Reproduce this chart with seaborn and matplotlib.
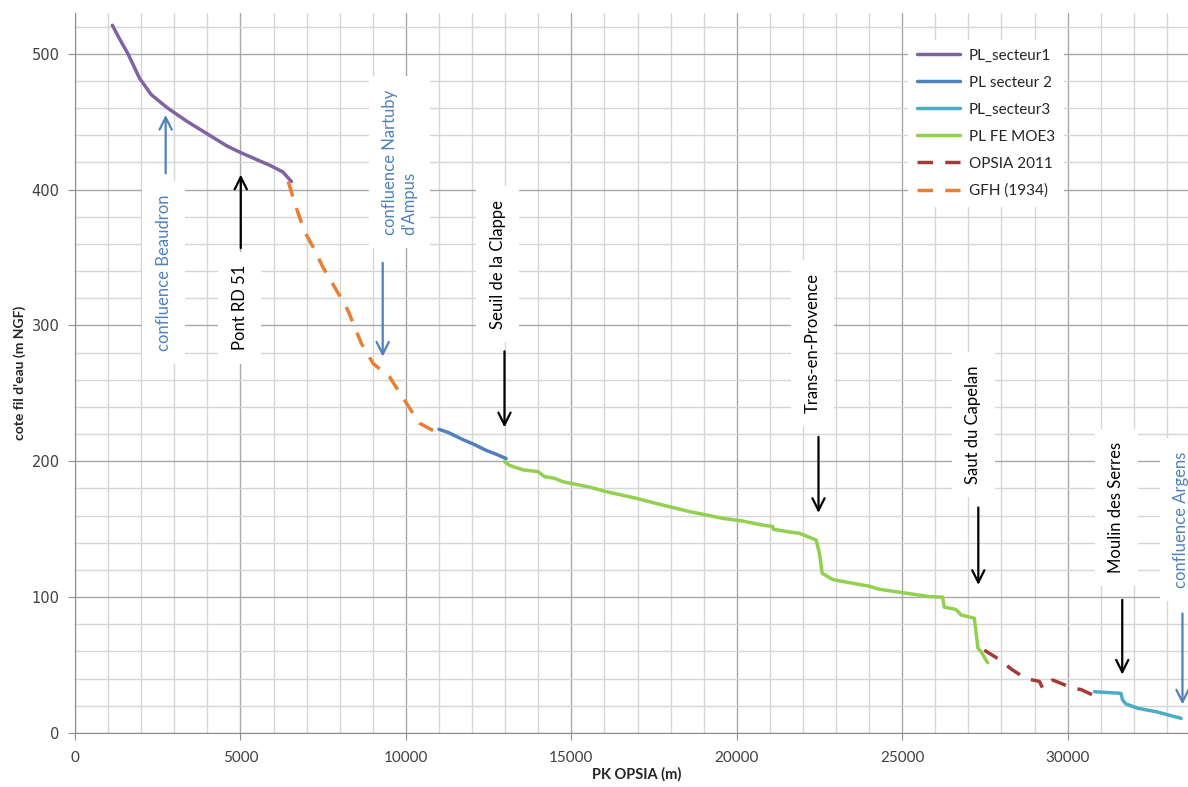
import pandas as pd
import numpy as np
import seaborn as sns
import matplotlib.pyplot as plt
from matplotlib.ticker import MultipleLocator

# Profil en long
sect1_x = [1130, 1300, 1600, 1950, 2300, 2800, 3400, 4000, 4600, 5030, 5500, 5880, 6280, 6540]
sect1_y = [521, 513, 500, 482, 470, 460, 450, 441, 432, 427, 422, 418, 413, 406]

sect2_x = [11000, 11300, 11720, 12100, 12430, 12750, 13030]
sect2_y = [223.6, 221, 216, 212, 208, 205, 202]

sect3_x = [30810, 31610, 31660, 31760, 32120, 32670, 33430]
sect3_y = [30.4, 29.2, 24.3, 21.4, 18.2, 15.7, 10.8]

moe3_x = [12980, 13130, 13540, 13990, 14190, 14490, 14740, 15550, 16050, 16960, 17560,
          18570, 19580, 20180, 20790, 21090, 21100, 21590, 21890, 22140, 22400, 22500,
          22580, 22900, 23100, 24010, 24310, 25010, 25820, 26220, 26270, 26620, 26780,
          27180, 27290, 27380, 27580]
moe3_y = [200, 197, 193.7, 192.4, 188.7, 187.5, 185, 181, 177.7, 172.8, 169,
          163, 158, 156, 153, 152, 150, 148, 147, 144.6, 142, 132,
          117.6, 113, 112, 108, 105.8, 103.3, 100.4, 100, 92.6, 91, 86.9,
          84.5, 62.4, 59.9, 51.8]

opsia_x = [27480, 27940, 28300, 28740, 29145, 29245, 29550, 30150, 30400, 30760]
opsia_y = [61, 54, 47, 40, 38, 33, 39, 33, 32, 28]

gfh_x = [6445, 6640, 6940, 7190, 7490, 7900, 8250, 8650, 9010, 9510, 10010, 10415, 10870]
gfh_y = [406, 390, 369, 358, 343, 326, 311, 287, 272, 262, 243, 228, 222]

# label, text x, text y, arrow tail y, arrow head y, arrow x, blue?
notes = [
    ("confluence Beaudron", 2680, 339, 412, 455, 2740, True),
    ("Pont RD 51", 4980, 313, 357, 411, 5010, False),
    ("confluence Nartuby\nd'Ampus", 9810, 420, 346, 277, 9300, True),
    ("Seuil de la Clappe", 12770, 345, 281, 225, 12980, False),
    ("Trans-en-Provence", 22290, 287, 218, 162, 22470, False),
    ("Saut du Capelan", 27150, 227, 166, 109, 27300, False),
    ("Moulin des Serres", 31470, 166, 98, 43, 31650, False),
    ("confluence Argens", 33440, 157, 88, 21, 33470, True),
]

sns.set_style("white")
plt.rcParams['font.family'] = ['Lato', 'DejaVu Sans']

fig = plt.figure(figsize=(11.88, 7.87), dpi=100)
ax = fig.add_axes([75 / 1188, 54 / 787, 1125 / 1188, 720 / 787])

series = [
    ("PL_secteur1", sect1_x, sect1_y, "#8064A2", "-"),
    ("PL secteur 2", sect2_x, sect2_y, "#4F81BD", "-"),
    ("PL_secteur3", sect3_x, sect3_y, "#4BACC6", "-"),
    ("PL FE MOE3", moe3_x, moe3_y, "#92D050", "-"),
    ("OPSIA 2011", opsia_x, opsia_y, "#A33B38", (0, (4.5, 3.5))),
    ("GFH (1934)", gfh_x, gfh_y, "#E97F32", (0, (4.5, 3.5))),
]
for name, xs, ys, col, ls in series:
    df = pd.DataFrame({"pk": xs, "cote": ys})
    sns.lineplot(data=df, x="pk", y="cote", ax=ax, color=col, linewidth=2.5,
                 linestyle=ls, label=name, sort=False, estimator=None)

ax.set_xlim(0, 34000)
ax.set_ylim(0, 530)
ax.xaxis.set_major_locator(MultipleLocator(5000))
ax.xaxis.set_minor_locator(MultipleLocator(1000))
ax.yaxis.set_major_locator(MultipleLocator(100))
ax.yaxis.set_minor_locator(MultipleLocator(20))
ax.set_axisbelow(True)
ax.grid(which="major", color="#A8A8A8", linewidth=1.0)
ax.grid(which="minor", color="#D6D6D6", linewidth=1.0)

for s in ["top", "right"]:
    ax.spines[s].set_visible(False)
for s in ["left", "bottom"]:
    ax.spines[s].set_color("#8C8C8C")
ax.tick_params(which="major", length=5, color="#8C8C8C", direction="out", left=True, bottom=True)
ax.tick_params(which="minor", length=0)
ax.tick_params(axis="x", labelsize=11, labelcolor="#404040", pad=8)
ax.tick_params(axis="y", labelsize=10.5, labelcolor="#404040", pad=6)
for lab in ax.get_yticklabels():
    lab.set_family("DejaVu Sans")

ax.set_xlabel("PK OPSIA (m)", fontsize=10.5, fontweight="bold")
ax.set_ylabel("cote fil d'eau (m NGF)", fontsize=10, fontweight="bold")
ax.xaxis.set_label_coords(0.4996, -0.047)
ax.yaxis.set_label_coords(-0.0435, 0.5)

for txt, tx, ty, y0, y1, axx, blue in notes:
    col = "#4F81BD" if blue else "black"
    ax.text(tx, ty, txt, rotation=90, ha="center", va="center", color=col,
            fontsize=12, multialignment="left", zorder=3,
            bbox=dict(facecolor="white", edgecolor="none", boxstyle="square,pad=0.8"))
    ax.annotate("", xy=(axx, y1), xytext=(axx, y0), zorder=3,
                arrowprops=dict(arrowstyle="->", color=col, lw=1.6, mutation_scale=22,
                                shrinkA=0, shrinkB=0))

leg = ax.legend(loc="upper left", bbox_to_anchor=(900 / 1188, 1 - 32 / 787),
                bbox_transform=fig.transFigure, fontsize=11, frameon=True,
                handlelength=2.8, handletextpad=0.6, labelspacing=0.85,
                borderpad=0.6)
leg.get_frame().set_facecolor("white")
leg.get_frame().set_edgecolor("none")
leg.get_frame().set_alpha(1)
for t in leg.get_texts():
    t.set_color("#262626")

plt.savefig("out.png", dpi=100)
